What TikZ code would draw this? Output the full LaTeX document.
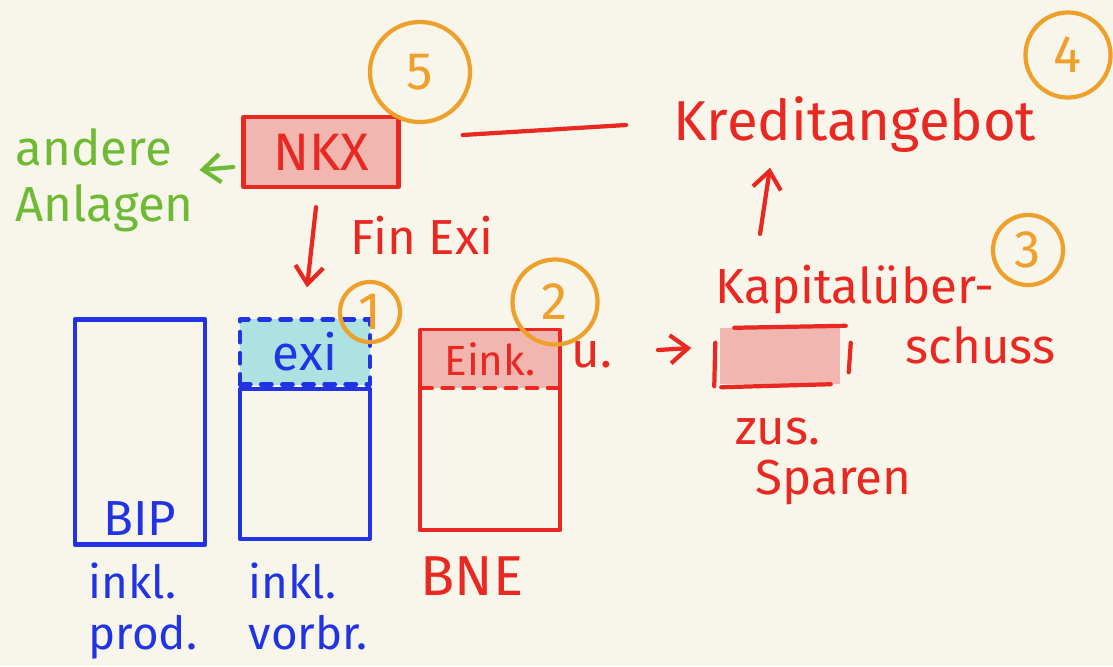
\documentclass[tikz,border=0pt]{standalone}
\usepackage{fontspec}
\setmainfont{Fira Sans}
\usepackage{tikz}
\usetikzlibrary{arrows.meta,positioning}

\definecolor{paper}{RGB}{248,245,234}
\definecolor{inkred}{RGB}{233,40,34}
\definecolor{inkpink}{RGB}{242,182,176}
\definecolor{inkblue}{RGB}{32,52,228}
\definecolor{inkcyan}{RGB}{172,226,226}
\definecolor{inkorange}{RGB}{239,160,42}
\definecolor{inkgreen}{RGB}{110,186,52}

\tikzset{
  pen/.style={line width=1.2pt, line cap=round, line join=round},
  redtext/.style={text=inkred, inner sep=0pt, font=\fontsize{14}{17}\selectfont},
  bluetext/.style={text=inkblue, inner sep=0pt, font=\fontsize{14}{17}\selectfont},
  greentext/.style={text=inkgreen, inner sep=0pt, font=\fontsize{14}{16}\selectfont},
  numcircle/.style={draw=inkorange, pen, circle, inner sep=0pt, text=inkorange, font=\fontsize{15}{18}\selectfont},
  bluecol/.style={draw=inkblue, pen, rectangle, minimum width=1.3cm},
  redcol/.style={draw=inkred, pen, rectangle, minimum width=1.4cm},
  pinkbox/.style={fill=inkpink, rectangle},
  redarrow/.style={pen, draw=inkred, -{Straight Barb[length=5pt,width=8pt]}},
  greenarrow/.style={pen, draw=inkgreen, -{Straight Barb[length=5pt,width=8pt]}}
}

\begin{document}
\begin{tikzpicture}[x=0.01cm, y=-0.01cm]
  \fill[paper] (0,0) rectangle (1113,666);
  \useasboundingbox (0,0) rectangle (1113,666);

  % oben
  \node[pinkbox, draw=inkred, pen, minimum width=1.55cm, minimum height=0.7cm,
        text=inkred, font=\fontsize{15}{18}\selectfont] (nkx) at (321,152) {NKX};
  \node[greentext, align=left, anchor=west] (anlagen) at (15,180) {andere\\Anlagen};
  \node[redtext, font=\fontsize{16}{19}\selectfont] (kredit) at (855,125) {Kreditangebot};
  \node[redtext, anchor=west] (finexi) at (350,235) {Fin Exi};

  % Saeulen
  \node[bluecol, minimum height=2.25cm] (bipcol) at (140,432) {};
  \node[bluetext, above=3pt of bipcol.south] (bip) {BIP};
  \node[draw=inkblue, pen, dashed, fill=inkcyan, minimum width=1.3cm, minimum height=0.65cm,
        text=inkblue, font=\fontsize{14}{17}\selectfont] (exi) at (305,352) {exi};
  \node[bluecol, minimum height=1.5cm, below=0pt of exi] (vorbcol) {};
  \node[redcol, minimum height=2cm] (bnecol) at (490,430) {};
  \node[pinkbox, anchor=north, minimum width=1.36cm, minimum height=0.48cm, text=inkred,
        font=\fontsize{12}{14}\selectfont] (eink) at ([yshift=-0.6pt]bnecol.north) {Eink.};
  \draw[pen, draw=inkred, dashed] (eink.south west) -- (eink.south east);

  \node[bluetext, font=\fontsize{13}{14.5}\selectfont, align=left, anchor=north west] (inklprod) at (88,562) {inkl.\\prod.};
  \node[bluetext, font=\fontsize{13}{14.5}\selectfont, align=left, anchor=north west] (inklvorb) at (248,562) {inkl.\\vorbr.};
  \node[redtext, font=\fontsize{16}{19}\selectfont, anchor=north west] (bne) at (420,556) {BNE};

  % rechts
  \node[redtext] (u) at (592,355) {u.};
  \node[pinkbox, minimum width=1.2cm, minimum height=0.55cm] (kue) at (780,356) {};
  \draw[pen, draw=inkred] ([shift={(15,0)}]kue.north west) -- ([shift={(5,-2)}]kue.north east);
  \draw[pen, draw=inkred] ([shift={(2,3)}]kue.south west) -- ([shift={(-10,0)}]kue.south east);
  \draw[pen, draw=inkred] ([shift={(-4,15)}]kue.north west) -- ([shift={(-5,2)}]kue.south west);
  \draw[pen, draw=inkred] ([shift={(10,15)}]kue.north east) -- ([shift={(8,-12)}]kue.south east);
  \node[redtext, anchor=west] (kapital) at (715,290) {Kapitalüber-};
  \node[redtext, anchor=west] (schuss) at (905,345) {schuss};
  \node[redtext, anchor=west] (zus) at (735,432) {zus.};
  \node[redtext, anchor=west] (sparen) at (755,482) {Sparen};

  % Nummern
  \node[numcircle, minimum size=1cm] (n5) at (420,72) {5};
  \node[numcircle, minimum size=0.6cm] (n1) at (370,312) {1};
  \node[numcircle, minimum size=0.85cm] (n2) at (555,302) {2};
  \node[numcircle, minimum size=0.7cm] (n3) at (1028,250) {3};
  \node[numcircle, minimum size=0.85cm] (n4) at (1068,55) {4};

  % Pfeile
  \draw[greenarrow] ([shift={(-8,15)}]nkx.west) -- ([shift={(5,-10)}]anlagen.east);
  \draw[pen, draw=inkred] ([shift={(62,-17)}]nkx.east) -- ([shift={(-47,0)}]kredit.west);
  \draw[redarrow] ([shift={(-5,18)}]nkx.south) -- ([shift={(2,-30)}]exi.north);
  \draw[redarrow] ([shift={(45,-5)}]u.east) -- ([shift={(-28,-8)}]kue.west);
  \draw[redarrow] ([shift={(-95,-31)}]kapital.north) -- ([shift={(-85,14)}]kredit.south);
\end{tikzpicture}
\end{document}
